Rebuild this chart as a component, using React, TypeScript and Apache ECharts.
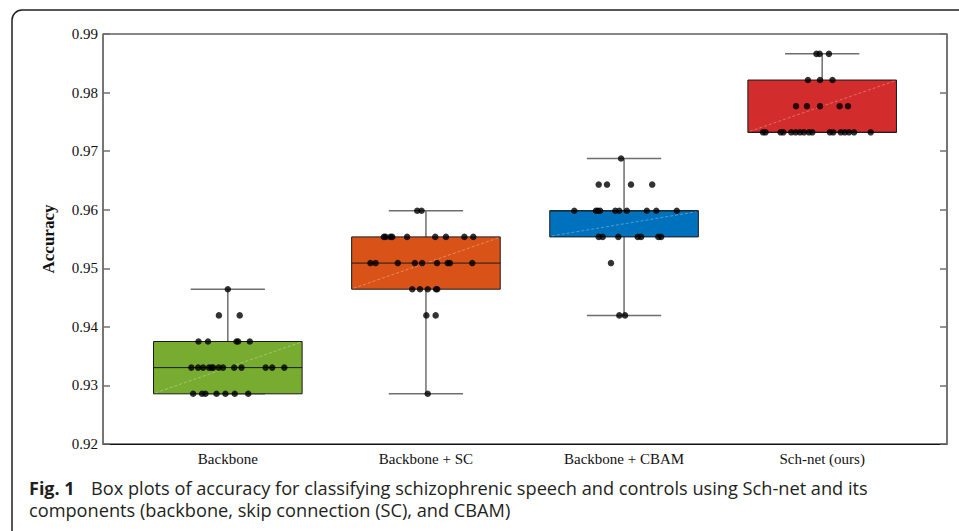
import React, { useEffect, useRef } from "react";
import * as echarts from "echarts";

// ---- data ----
const categories = ["Backbone", "Backbone + SC", "Backbone + CBAM", "Sch-net (ours)"];
const boxColors = ["#77AC30", "#D95319", "#0072BD", "#D22C2C"];

const boxMin = [0.92857, 0.92857, 0.94196, 0.97321];
const boxQ1 = [0.92857, 0.94643, 0.95536, 0.97321];
const boxMedian = [0.93304, 0.95089, 0.95982, 0.97321];
const boxQ3 = [0.9375, 0.95536, 0.95982, 0.98214];
const boxMax = [0.94643, 0.95982, 0.96875, 0.98661];

const yTicks = [0.92, 0.93, 0.94, 0.95, 0.96, 0.97, 0.98, 0.99];

const backboneValues = [
  0.94643,
  0.94196, 0.94196,
  0.9375, 0.9375, 0.9375, 0.9375, 0.9375,
  0.93304, 0.93304, 0.93304, 0.93304, 0.93304, 0.93304, 0.93304, 0.93304, 0.93304, 0.93304, 0.93304, 0.93304, 0.93304,
  0.92857, 0.92857, 0.92857, 0.92857, 0.92857, 0.92857, 0.92857,
];
const backboneJitter = [
  0.0,
  -0.045, 0.06,
  -0.148, -0.1, 0.044, 0.052, 0.111,
  -0.184, -0.15, -0.125, -0.095, -0.082, -0.074, -0.046, -0.024, 0.032, 0.069, 0.191, 0.224, 0.285,
  -0.175, -0.13, -0.113, -0.057, -0.012, 0.035, 0.103,
];

const scValues = [
  0.95982, 0.95982,
  0.95536, 0.95536, 0.95536, 0.95536, 0.95536, 0.95536, 0.95536, 0.95536, 0.95536,
  0.95089, 0.95089, 0.95089, 0.95089, 0.95089, 0.95089, 0.95089, 0.95089, 0.95089,
  0.94643, 0.94643, 0.94643, 0.94643, 0.94643,
  0.94196, 0.94196,
  0.92857,
];
const scJitter = [
  -0.044, -0.022,
  -0.212, -0.204, -0.179, -0.17, -0.095, 0.047, 0.101, 0.194, 0.239,
  -0.28, -0.254, -0.142, -0.056, -0.019, 0.056, 0.11, 0.121, 0.234,
  -0.069, -0.03, 0.009, 0.051, 0.057,
  0.002, 0.049,
  0.009,
];

const cbamValues = [
  0.96875,
  0.96429, 0.96429, 0.96429, 0.96429,
  0.95982, 0.95982, 0.95982, 0.95982, 0.95982, 0.95982, 0.95982, 0.95982, 0.95982, 0.95982,
  0.95536, 0.95536, 0.95536, 0.95536, 0.95536, 0.95536, 0.95536,
  0.95089,
  0.94196, 0.94196,
];
const cbamJitter = [
  -0.015,
  -0.128, -0.086, 0.035, 0.142,
  -0.251, -0.142, -0.133, -0.121, -0.044, -0.024, 0.014, 0.115, 0.163, 0.266,
  -0.128, -0.108, -0.029, 0.069, 0.086, 0.173, 0.187,
  -0.066,
  -0.024, 0.005,
];

const schnetValues = [
  0.98661, 0.98661, 0.98661,
  0.98214, 0.98214, 0.98214,
  0.97768, 0.97768, 0.97768, 0.97768, 0.97768,
  0.97321, 0.97321, 0.97321, 0.97321, 0.97321, 0.97321, 0.97321, 0.97321, 0.97321,
  0.97321, 0.97321, 0.97321, 0.97321, 0.97321, 0.97321, 0.97321, 0.97321,
];
const schnetJitter = [
  -0.029, -0.013, 0.034,
  -0.072, -0.011, 0.052,
  -0.132, -0.077, -0.011, 0.088, 0.13,
  -0.299, -0.286, -0.21, -0.196, -0.156, -0.134, -0.112, -0.092, -0.067,
  -0.05, 0.039, 0.056, 0.094, 0.114, 0.135, 0.161, 0.245,
];

const captionLabel = "Fig. 1";
const captionLine1 = "Box plots of accuracy for classifying schizophrenic speech and controls using Sch-net and its";
const captionLine2 = "components (backbone, skip connection (SC), and CBAM)";

const SERIF = "'Liberation Serif', 'Times New Roman', serif";
const SANS = "'Open Sans', 'Noto Sans', sans-serif";

export default function App() {
  const ref = useRef<HTMLDivElement>(null);

  useEffect(() => {
    document.body.style.margin = "0";
    if (!ref.current) return;
    const chart = echarts.init(ref.current, undefined, { renderer: "svg" });

    const boxData = categories.map((_, i) => [
      i + 1,
      boxMin[i],
      boxQ1[i],
      boxMedian[i],
      boxQ3[i],
      boxMax[i],
    ]);

    const groups = [
      [backboneValues, backboneJitter],
      [scValues, scJitter],
      [cbamValues, cbamJitter],
      [schnetValues, schnetJitter],
    ];
    const dots: number[][] = [];
    groups.forEach(([vals, jit], gi) => {
      vals.forEach((v, j) => dots.push([gi + 1 + jit[j], v]));
    });

    const boxWidth = 0.75;

    const option: any = {
      animation: false,
      backgroundColor: "#ffffff",
      grid: {
        left: 103,
        top: 34,
        right: 12,
        bottom: 87,
        show: true,
        borderColor: "#111111",
        borderWidth: 1,
        backgroundColor: "transparent",
      },
      xAxis: {
        type: "value",
        min: 0.37,
        max: 4.63,
        splitLine: { show: false },
        axisTick: { show: false },
        axisLine: { show: true, onZero: false, lineStyle: { color: "#111111", width: 1 } },
        axisLabel: {
          customValues: [1, 2, 3, 4],
          formatter: (v: number) => categories[Math.round(v) - 1] ?? "",
          fontFamily: SERIF,
          fontSize: 15,
          color: "#111111",
          margin: 7,
        },
      },
      yAxis: [
        {
          type: "value",
          position: "left",
          min: 0.92,
          max: 0.99,
          interval: 0.01,
          name: "Accuracy",
          nameLocation: "middle",
          nameRotate: 90,
          nameGap: 46,
          nameTextStyle: { fontFamily: SERIF, fontSize: 17, fontWeight: "bold", color: "#111111" },
          splitLine: { show: false },
          axisLine: { show: true, lineStyle: { color: "#707070", width: 1.5 } },
          axisTick: { show: true, inside: true, length: 7, lineStyle: { color: "#707070", width: 1.5 } },
          axisLabel: {
            customValues: yTicks,
            formatter: (v: number) => v.toFixed(2),
            fontFamily: SERIF,
            fontSize: 15,
            color: "#111111",
            margin: 5,
          },
        },
        {
          type: "value",
          position: "right",
          min: 0.92,
          max: 0.99,
          interval: 0.01,
          splitLine: { show: false },
          axisLine: { show: true, lineStyle: { color: "#707070", width: 1.5 } },
          axisTick: { show: true, inside: true, length: 7, lineStyle: { color: "#707070", width: 1.5 } },
          axisLabel: { show: false },
        },
      ],
      series: [
        {
          type: "custom",
          z: 2,
          data: boxData,
          encode: { x: 0, y: [1, 2, 3, 4, 5] },
          renderItem: (params: any, api: any) => {
            const x = api.value(0);
            const [cx, yMin] = api.coord([x, api.value(1)]);
            const yQ1 = api.coord([x, api.value(2)])[1];
            const yMed = api.coord([x, api.value(3)])[1];
            const yQ3 = api.coord([x, api.value(4)])[1];
            const yMax = api.coord([x, api.value(5)])[1];
            const w = api.size([boxWidth, 0])[0];
            const half = w / 2;
            const cap = w / 4;
            const color = boxColors[params.dataIndex];
            const whiskerStyle = { stroke: "#6e6e6e", lineWidth: 1.5 };
            return {
              type: "group",
              children: [
                { type: "line", shape: { x1: cx, y1: yMax, x2: cx, y2: yQ3 }, style: whiskerStyle },
                { type: "line", shape: { x1: cx, y1: yQ1, x2: cx, y2: yMin }, style: whiskerStyle },
                { type: "line", shape: { x1: cx - cap, y1: yMax, x2: cx + cap, y2: yMax }, style: whiskerStyle },
                { type: "line", shape: { x1: cx - cap, y1: yMin, x2: cx + cap, y2: yMin }, style: whiskerStyle },
                {
                  type: "rect",
                  shape: { x: cx - half, y: yQ3, width: w, height: yQ1 - yQ3 },
                  style: { fill: color, stroke: "#1a1a1a", lineWidth: 1 },
                },
                {
                  type: "line",
                  shape: { x1: cx - half + 2, y1: yQ1 - 1, x2: cx + half - 2, y2: yQ3 + 1 },
                  style: { stroke: "rgba(255,255,255,0.3)", lineWidth: 1, lineDash: [3, 2] },
                },
                {
                  type: "line",
                  shape: { x1: cx - half, y1: yMed, x2: cx + half, y2: yMed },
                  style: { stroke: "#1a1a1a", lineWidth: 1 },
                },
              ],
            };
          },
        },
        {
          type: "scatter",
          z: 3,
          data: dots,
          symbol: "circle",
          symbolSize: 6.5,
          itemStyle: { color: "#000000" },
        },
      ],
      graphic: [
        {
          type: "rect",
          silent: true,
          z: -10,
          shape: { x: 12, y: 10, width: 1400, height: 900, r: [10, 0, 0, 0] },
          style: { fill: "none", stroke: "#231f20", lineWidth: 1.5 },
        },
        {
          type: "text",
          x: 29,
          y: 477,
          style: {
            text: captionLabel,
            fontFamily: SANS,
            fontSize: 18,
            fontWeight: "bold",
            fill: "#231f20",
            lineHeight: 22,
            verticalAlign: "top",
          },
        },
        {
          type: "text",
          x: 91,
          y: 477,
          style: {
            text: captionLine1,
            fontFamily: SANS,
            fontSize: 18.2,
            fill: "#231f20",
            lineHeight: 22,
            verticalAlign: "top",
          },
        },
        {
          type: "text",
          x: 29,
          y: 499,
          style: {
            text: captionLine2,
            fontFamily: SANS,
            fontSize: 18.2,
            fill: "#231f20",
            lineHeight: 22,
            verticalAlign: "top",
          },
        },
      ],
    };

    chart.setOption(option);
    return () => chart.dispose();
  }, []);

  return <div ref={ref} style={{ width: 959, height: 531 }} />;
}
